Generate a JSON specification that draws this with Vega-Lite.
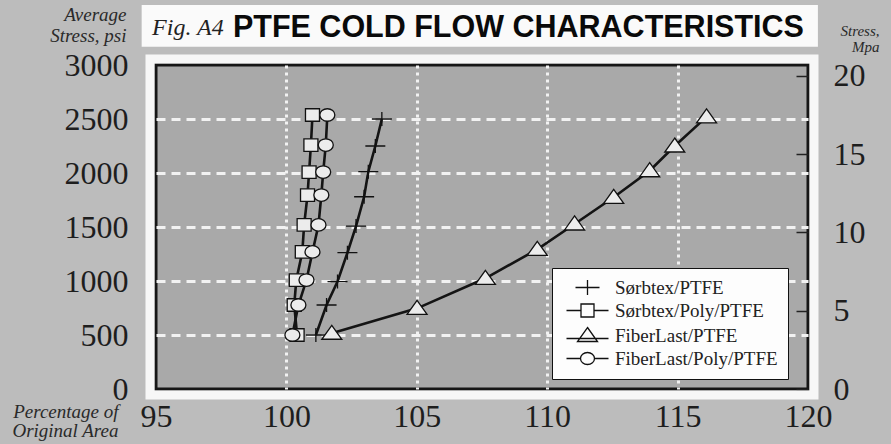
{
  "$schema": "https://vega.github.io/schema/vega-lite/v6.json",
  "width": 652,
  "height": 324,
  "autosize": {"type": "none"},
  "padding": {"left": 156, "top": 65, "right": 83, "bottom": 55},
  "background": "#bcbcbc",
  "config": {
    "view": {"fill": "#a9a9a9", "stroke": "#161616", "strokeWidth": 3},
    "axis": {
      "labelFont": "Liberation Serif",
      "labelColor": "#1e1e1e",
      "labelFontSize": 32,
      "titleFont": "Liberation Serif",
      "titleFontStyle": "italic",
      "titleFontWeight": "normal",
      "titleColor": "#2a2a2a",
      "domain": false
    }
  },
  "datasets": {
    "cold": [
      {"series": "Sørbtex/PTFE", "area": 101.13, "psi": 500},
      {"series": "Sørbtex/PTFE", "area": 101.54, "psi": 778},
      {"series": "Sørbtex/PTFE", "area": 101.96, "psi": 995},
      {"series": "Sørbtex/PTFE", "area": 102.34, "psi": 1262},
      {"series": "Sørbtex/PTFE", "area": 102.67, "psi": 1509},
      {"series": "Sørbtex/PTFE", "area": 102.98, "psi": 1780},
      {"series": "Sørbtex/PTFE", "area": 103.14, "psi": 2012},
      {"series": "Sørbtex/PTFE", "area": 103.41, "psi": 2250},
      {"series": "Sørbtex/PTFE", "area": 103.66, "psi": 2500},
      {"series": "Sørbtex/Poly/PTFE", "area": 100.41, "psi": 500},
      {"series": "Sørbtex/Poly/PTFE", "area": 100.3, "psi": 778},
      {"series": "Sørbtex/Poly/PTFE", "area": 100.38, "psi": 1009},
      {"series": "Sørbtex/Poly/PTFE", "area": 100.61, "psi": 1269},
      {"series": "Sørbtex/Poly/PTFE", "area": 100.68, "psi": 1519},
      {"series": "Sørbtex/Poly/PTFE", "area": 100.81, "psi": 1796},
      {"series": "Sørbtex/Poly/PTFE", "area": 100.87, "psi": 2009},
      {"series": "Sørbtex/Poly/PTFE", "area": 100.94, "psi": 2259},
      {"series": "Sørbtex/Poly/PTFE", "area": 101.0, "psi": 2537},
      {"series": "FiberLast/PTFE", "area": 101.74, "psi": 516},
      {"series": "FiberLast/PTFE", "area": 105.01, "psi": 747},
      {"series": "FiberLast/PTFE", "area": 107.63, "psi": 1025},
      {"series": "FiberLast/PTFE", "area": 109.62, "psi": 1293},
      {"series": "FiberLast/PTFE", "area": 111.05, "psi": 1528},
      {"series": "FiberLast/PTFE", "area": 112.55, "psi": 1775},
      {"series": "FiberLast/PTFE", "area": 113.93, "psi": 2021},
      {"series": "FiberLast/PTFE", "area": 114.89, "psi": 2250},
      {"series": "FiberLast/PTFE", "area": 116.11, "psi": 2520},
      {"series": "FiberLast/Poly/PTFE", "area": 100.23, "psi": 500},
      {"series": "FiberLast/Poly/PTFE", "area": 100.46, "psi": 778},
      {"series": "FiberLast/Poly/PTFE", "area": 100.77, "psi": 1009},
      {"series": "FiberLast/Poly/PTFE", "area": 101.0, "psi": 1269},
      {"series": "FiberLast/Poly/PTFE", "area": 101.23, "psi": 1519},
      {"series": "FiberLast/Poly/PTFE", "area": 101.34, "psi": 1796},
      {"series": "FiberLast/Poly/PTFE", "area": 101.41, "psi": 2009},
      {"series": "FiberLast/Poly/PTFE", "area": 101.51, "psi": 2259},
      {"series": "FiberLast/Poly/PTFE", "area": 101.57, "psi": 2537}
    ]
  },
  "data": {"name": "cold"},
  "layer": [
    {
      "layer": [
        {
          "data": {"values": [{}]},
          "mark": {"type": "rect", "filled": false, "stroke": "#f7f7f7", "strokeWidth": 9},
          "encoding": {
            "x": {"datum": 94.77, "type": "quantitative"},
            "x2": {"datum": 120.23},
            "y": {"datum": -56, "type": "quantitative"},
            "y2": {"datum": 3056}
          }
        },
        {
          "data": {"values": [{}]},
          "mark": {"type": "rect", "fill": "#fafafa"},
          "encoding": {
            "x": {"datum": 94.45, "type": "quantitative"},
            "x2": {"datum": 120.38},
            "y": {"datum": 3170, "type": "quantitative"},
            "y2": {"datum": 3555}
          }
        },
        {
          "data": {"values": [{}]},
          "mark": {"type": "text", "text": "Fig. A4", "font": "Liberation Serif", "fontStyle": "italic", "fontSize": 24, "align": "left", "baseline": "middle", "color": "#222222"},
          "encoding": {
            "x": {"datum": 94.85, "type": "quantitative"},
            "y": {"datum": 3345, "type": "quantitative"}
          }
        },
        {
          "data": {"values": [{}]},
          "mark": {"type": "text", "text": "PTFE COLD FLOW CHARACTERISTICS", "font": "Liberation Sans", "fontWeight": "bold", "fontSize": 30.5, "align": "left", "baseline": "middle", "color": "#0a0a0a"},
          "encoding": {
            "x": {"datum": 97.95, "type": "quantitative"},
            "y": {"datum": 3345, "type": "quantitative"}
          }
        },
        {
          "mark": {"type": "line", "color": "#141414", "strokeWidth": 2.6},
          "encoding": {
            "x": {
              "field": "area",
              "type": "quantitative",
              "scale": {"domain": [95, 120], "nice": false, "zero": false},
              "axis": {
                "values": [95, 100, 105, 110, 115, 120],
                "format": "d",
                "ticks": false,
                "labelFlush": false,
                "labelPadding": 12,
                "grid": true,
                "gridColor": "#f2f2f2",
                "gridWidth": 3,
                "gridDash": [3, 4],
                "gridOpacity": {"condition": {"test": "datum.value == 95 || datum.value == 120", "value": 0}, "value": 1},
                "title": ["Percentage of", "Original Area"],
                "titleFontSize": 19,
                "titleLineHeight": 19,
                "titleAlign": "right",
                "titleBaseline": "top",
                "titleAngle": 0,
                "titleX": -38,
                "titleY": 13
              }
            },
            "y": {
              "field": "psi",
              "type": "quantitative",
              "scale": {"domain": [0, 3000], "nice": false},
              "axis": {
                "values": [0, 500, 1000, 1500, 2000, 2500, 3000],
                "format": "d",
                "ticks": false,
                "labelPadding": 28,
                "grid": true,
                "gridColor": "#f2f2f2",
                "gridWidth": 3,
                "gridDash": [9, 6],
                "gridOpacity": {"condition": {"test": "datum.value == 0 || datum.value == 3000", "value": 0}, "value": 1},
                "title": ["Average", "Stress, psi"],
                "titleFontSize": 19,
                "titleLineHeight": 21,
                "titleAlign": "right",
                "titleBaseline": "top",
                "titleAngle": 0,
                "titleX": -30,
                "titleY": -60
              }
            },
            "detail": {"field": "series", "type": "nominal"},
            "order": {"field": "psi", "type": "quantitative"}
          }
        },
        {
          "mark": {"type": "point", "filled": true, "fill": "#ececec", "stroke": "#111111", "strokeWidth": 1.3, "opacity": 1, "size": 100},
          "encoding": {
            "x": {"field": "area", "type": "quantitative"},
            "y": {"field": "psi", "type": "quantitative"},
            "shape": {
              "field": "series",
              "type": "nominal",
              "scale": {
                "domain": ["Sørbtex/PTFE", "Sørbtex/Poly/PTFE", "FiberLast/PTFE", "FiberLast/Poly/PTFE"],
                "range": [
                  "M-2,0H2M0,-1.4V1.4",
                  "M-1.4,-1.25H1.4V1.25H-1.4Z",
                  "M0,-1.6L2,1.2H-2Z",
                  "M-1.5,0A1.5,1.25 0 1,0 1.5,0A1.5,1.25 0 1,0 -1.5,0Z"
                ]
              },
              "legend": null
            }
          }
        },
        {
          "transform": [{"filter": "false"}],
          "mark": {"type": "point", "filled": false, "color": "#111111", "strokeWidth": 1.3, "opacity": 1, "size": 100},
          "encoding": {
            "x": {"field": "area", "type": "quantitative"},
            "y": {"field": "psi", "type": "quantitative"},
            "shape": {
              "field": "series",
              "type": "nominal",
              "scale": {
                "domain": ["Sørbtex/PTFE", "Sørbtex/Poly/PTFE", "FiberLast/PTFE", "FiberLast/Poly/PTFE"],
                "range": [
                  "M0.8,0H5.6M3.2,-1.5V1.5",
                  "M-1,0H1.9M4.5,0H7.4M1.9,-1.3H4.5V1.3H1.9Z",
                  "M-1,0.6H7.4M3.2,-1.6L5.2,1.2H1.2Z",
                  "M-1,0H1.8M4.6,0H7.4M1.8,0A1.4,1.2 0 1,0 4.6,0A1.4,1.2 0 1,0 1.8,0Z"
                ]
              },
              "legend": {
                "orient": "none",
                "legendX": 396,
                "legendY": 203,
                "title": null,
                "fillColor": "#fdfdfd",
                "strokeColor": "#111111",
                "padding": 10,
                "labelFont": "Liberation Serif",
                "labelFontSize": 19,
                "labelColor": "#222222",
                "labelOffset": 34,
                "labelLimit": 300,
                "rowPadding": 3,
                "symbolSize": 100,
                "symbolStrokeWidth": 1.3
              }
            }
          }
        }
      ],
      "resolve": {"scale": {"shape": "independent"}}
    },
    {
      "mark": {"type": "rule", "opacity": 0},
      "encoding": {
        "y": {
          "datum": 0,
          "type": "quantitative",
          "scale": {"domain": [0, 20.684], "nice": false},
          "axis": {
            "orient": "right",
            "values": [0, 5, 10, 15, 20],
            "ticks": true,
            "tickSize": -12,
            "tickColor": "#222222",
            "tickWidth": 1.5,
            "grid": false,
            "labelPadding": 37,
            "labelAlign": "left",
            "title": ["Stress,", "Mpa"],
            "titleFontSize": 15,
            "titleLineHeight": 16,
            "titleAlign": "right",
            "titleBaseline": "top",
            "titleAngle": 0,
            "titleX": 71,
            "titleY": -42
          }
        }
      }
    }
  ],
  "resolve": {"scale": {"y": "independent"}, "axis": {"y": "independent"}}
}
